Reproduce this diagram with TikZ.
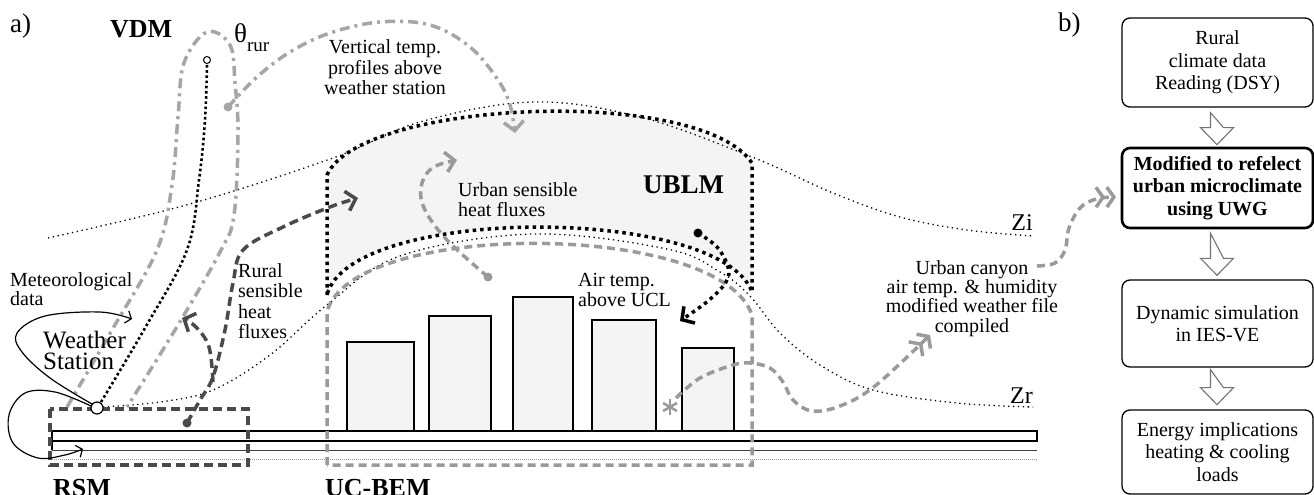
\documentclass[tikz,border=0pt]{standalone}
\usepackage{fontspec}
\setmainfont{Liberation Serif}
\usetikzlibrary{arrows.meta,calc}
\definecolor{lgrey}{HTML}{9A9A9A}
\definecolor{vgrey}{HTML}{A6A6A6}
\definecolor{dgrey}{HTML}{4A4A4A}
\definecolor{fillg}{HTML}{F4F4F4}
\newcommand\myfs[2]{\fontsize{#1}{#2}\selectfont}
\begin{document}
\begin{tikzpicture}[x=1pt,y=-1pt,
  lbl/.style={inner sep=0pt, font=\myfs{20}{20}},
  bigdots/.style={line width=3.5pt, dash pattern=on 3.5pt off 4pt, black},
  smalldots/.style={line width=1.3pt, dash pattern=on 1.3pt off 3.6pt, black},
  vdots/.style={line width=2.6pt, dash pattern=on 2.6pt off 2.6pt, black},
  vdmline/.style={line width=3.5pt, vgrey, dash pattern=on 10pt off 5pt on 3pt off 5pt},
  rsmline/.style={line width=3.5pt, dgrey, dash pattern=on 9pt off 5pt},
  ucline/.style={line width=3.5pt, lgrey, dash pattern=on 8pt off 5pt},
  thinblk/.style={line width=1.2pt, black},
  bldg/.style={draw=black, line width=1.3pt, fill=fillg},
  chev/.style={-{Straight Barb[length=9pt,width=20pt]}},
  dchev/.style={-{Straight Barb[length=7pt,width=20pt] Straight Barb[length=7pt,width=20pt]}},
  thinchev/.style={-{Straight Barb[length=5pt,width=13pt]}},
  fbox/.style={draw, rounded corners=8pt, line width=1.3pt, minimum width=191pt, align=center, inner sep=0pt, font=\myfs{20}{22.5}},
  barrow/.style={draw=black!55, line width=1.1pt, fill=white},
  pics/downarr/.style={code={\draw[barrow] (-6.5,0) -- (-6.5,#1) -- (-16.5,#1) -- (0,#1+17) -- (16.5,#1) -- (6.5,#1) -- cycle;}},
  bold26/.style={inner sep=0pt, font=\bfseries\myfs{26}{26}}
]
\useasboundingbox (0,0) rectangle (1314,495);

% ---------- UBLM region ----------
\path[fill=fillg] (327,295) -- (327,175) .. controls (360,100) and (700,85) .. (752,163) -- (752,292) .. controls (720,205) and (350,205) .. (327,295) -- cycle;

% ---------- ground ----------
\draw[thinblk] (52,431) rectangle (1037,441);
\draw[line width=0.9pt, black!75] (52,450) -- (1037,450);
\draw[line width=0.8pt, black!40, dash pattern=on 1pt off 1pt] (52,459) -- (1037,459);
\draw[thinblk] (52,441) -- (52,450);

% ---------- buildings ----------
\foreach \xa/\xb/\yt in {347/414/342, 429/491/316, 513/573/297, 592/656/320, 682/734/348}
  \draw[bldg] (\xa,\yt) rectangle (\xb,431);

% ---------- boundary layers ----------
\draw[smalldots] plot[smooth, tension=0.6] coordinates {(48,238) (190,204) (333,158) (420,122) (533,102) (640,117) (752,157) (833,193) (900,217) (967,230) (1033,236)};
\draw[smalldots] plot[smooth, tension=0.6] coordinates {(103,407) (160,402) (213,390) (270,355) (327,305) (400,256) (533,234) (667,249) (720,272) (750,296) (780,333) (820,365) (873,390) (957,403) (1033,407)};

% ---------- model boxes ----------
\draw[rsmline] (50,409) rectangle (248,465);
\draw[ucline] (327,465) -- (327,312) .. controls (350,220) and (720,220) .. (752,315) -- (752,465) -- cycle;
\draw[bigdots] (327,295) -- (327,175) .. controls (360,100) and (700,85) .. (752,163) -- (752,292) .. controls (720,205) and (350,205) .. (327,295);

% ---------- named points ----------
\coordinate (vdot) at (228,107);
\coordinate (rdot) at (187,423);
\coordinate (udot) at (488,277);
\coordinate (bdot) at (698,233);
\coordinate (ast) at (670,407);

% ---------- VDM ----------
\draw[vdmline] plot[smooth, tension=0.6] coordinates {(67,407) (112,330) (157,250) (172,185) (178,117) (184,63) (207,32) (230,45) (235,83) (238,133) (234,215) (220,252) (175,330) (127,407)};
\draw[vdots] plot[smooth, tension=0.6] coordinates {(101,402) (145,328) (187,250) (199,180) (205,120) (207,64)};
\node[circle, draw, fill=white, line width=1pt, minimum size=7pt, inner sep=0pt] (vtop) at (207,60) {};
\draw[vdmline, chev] plot[smooth, tension=0.6] coordinates {(vdot) (257,77) (290,52) (330,33) (380,22) (430,25) (470,47) (498,80) (510,105) (515,133)};
\node[circle, fill=vgrey, minimum size=9pt, inner sep=0pt] (vd) at (vdot) {};

% ---------- weather station ----------
\draw[thinblk, thinchev] plot[smooth, tension=0.6] coordinates {(92,404) (50,378) (22,352) (17,333) (45,316) (100,312) (132,319)};
\draw[thinblk, thinchev] plot[smooth, tension=0.6] coordinates {(91,406) (55,392) (25,393) (9,415) (13,443) (38,458) (65,455) (83,449)};
\node[circle, draw, fill=white, line width=1.2pt, minimum size=12pt, inner sep=0pt] (ws) at (97,408) {};

% ---------- rural sensible heat fluxes ----------
\draw[rsmline, chev] plot[smooth, tension=0.6] coordinates {(rdot) (200,400) (213,377) (225,330) (233,283) (243,250) (283,227) (330,207) (358,198)};
\draw[rsmline, chev] plot[smooth, tension=0.6] coordinates {(213,382) (209,347) (196,327) (182,318)};
\node[circle, fill=dgrey, minimum size=9pt, inner sep=0pt] (rd) at (rdot) {};

% ---------- urban sensible heat fluxes ----------
\draw[ucline, chev] plot[smooth, tension=0.6] coordinates {(udot) (447,240) (425,210) (421,187) (432,168) (457,160)};
\node[circle, fill=lgrey, minimum size=9pt, inner sep=0pt] (ud) at (udot) {};

% ---------- air temp above UCL ----------
\draw[bigdots, chev] plot[smooth, tension=0.6] coordinates {(bdot) (717,247) (728,267) (726,282) (708,301) (680,321)};
\node[circle, fill=black, minimum size=9pt, inner sep=0pt] (bd) at (bdot) {};

% ---------- urban canyon output ----------
\draw[ucline, dchev] plot[smooth, tension=0.6] coordinates {(676,398) (700,378) (733,365) (750,363) (770,368) (783,382) (793,400) (812,411) (840,406) (875,386) (930,335)};
\foreach \a in {90,30,150} \draw[lgrey, line width=2.5pt] ($(ast)+(\a:8)$) -- ($(ast)+(\a+180:8)$);
\draw[ucline, dchev] plot[smooth, tension=0.6] coordinates {(1037,266) (1055,263) (1065,250) (1069,228) (1080,208) (1096,199) (1116,197)};

% ---------- labels (anchor = baseline of last line) ----------
\node[inner sep=0pt, anchor=base west, font=\myfs{27}{27}] (la) at (10,33) {a)};
\node[inner sep=0pt, anchor=base west, font=\myfs{27}{27}] (lb) at (1058,32) {b)};
\node[bold26, anchor=base west] (vdm) at (110,38) {VDM};
\node[inner sep=0pt, anchor=base west, font=\myfs{27}{27}] (theta) at (234,43) {θ\raisebox{-9pt}{\myfs{19}{19}rur}};
\node[lbl, anchor=base, align=center] (vt) at (385,94) {Vertical temp.\\profiles above\\weather station};
\node[lbl, anchor=base west, align=left, font=\myfs{20}{19}] (met) at (10,305) {Meteorological\\data};
\node[inner sep=0pt, anchor=base west, align=left, font=\myfs{25}{21}] (wst) at (43,369) {Weather\\Station};
\node[lbl, anchor=base west, align=left, font=\myfs{20}{20.5}] (rsh) at (238,338.5) {Rural\\sensible\\heat\\fluxes};
\node[lbl, anchor=base west, align=left] (ush) at (458,216) {Urban sensible\\heat fluxes};
\node[lbl, anchor=base west, align=left] (atu) at (578,306) {Air temp.\\above UCL};
\node[bold26, anchor=base west, font=\bfseries\myfs{27}{27}] (ublm) at (643,193) {UBLM};
\node[lbl, anchor=base, align=center, font=\myfs{20}{19.3}] (uc) at (972,332) {Urban canyon\\air temp. \& humidity\\modified weather file\\compiled};
\node[inner sep=0pt, anchor=base east, font=\myfs{24}{24}] (zi) at (1033,230) {Zi};
\node[inner sep=0pt, anchor=base east, font=\myfs{24}{24}] (zr) at (1033,403) {Zr};
\node[bold26, anchor=base west] (rsm) at (53,496) {RSM};
\node[bold26, anchor=base west] (ucb) at (325,496) {UC-BEM};

% ---------- flowchart ----------
\node[fbox, minimum height=89pt] (b1) at (1217.5,62.5) {Rural\\climate data\\Reading (DSY)};
\node[fbox, minimum height=80pt, line width=2.6pt, font=\bfseries\myfs{20}{22.5}] (b2) at (1217.5,188) {Modified to refelect\\urban microclimate\\using UWG};
\node[fbox, minimum height=87pt] (b3) at (1217.5,323.5) {Dynamic simulation\\in IES-VE};
\node[fbox, minimum height=84pt] (b4) at (1217.5,452) {Energy implications\\heating \& cooling\\loads};
\pic at ($(b1.south)+(-0.5,5)$) {downarr=15};
\pic at ($(b2.south)+(-0.5,4)$) {downarr=25};
\pic at ($(b3.south)+(-0.5,2)$) {downarr=18};
\end{tikzpicture}
\end{document}
